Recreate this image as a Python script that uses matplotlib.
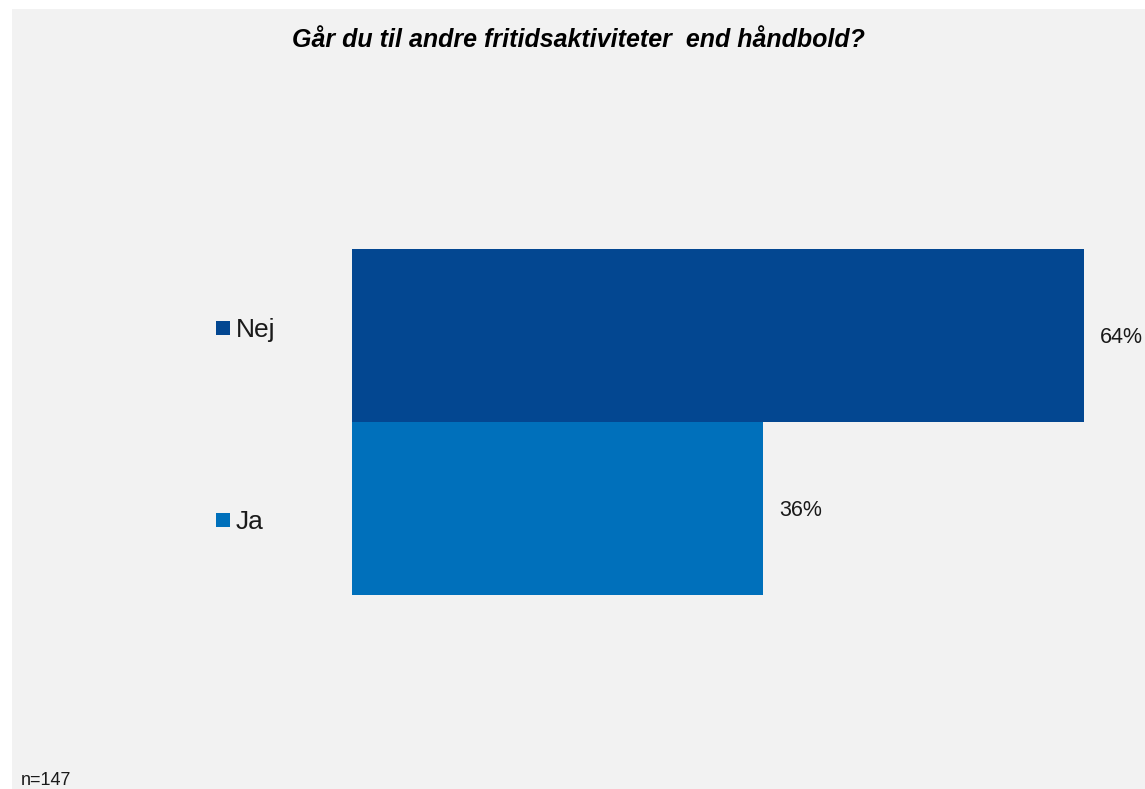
import matplotlib
matplotlib.use("Agg")
import matplotlib.pyplot as plt
from matplotlib.patches import Rectangle

plt.rcParams['font.family'] = ['Liberation Sans', 'DejaVu Sans']

categories = ["Ja", "Nej"]
values = [36, 64]
value_labels = ["36%", "64%"]
colors = ["#0070BB", "#034791"]
title = "Går du til andre fritidsaktiviteter  end håndbold?"
note = "n=147"

W, H = 1145, 789
fig = plt.figure(figsize=(W / 100, H / 100), dpi=100)
fig.patch.set_facecolor("white")

# gray chart area
fig.patches.append(Rectangle((12 / W, 0), 1 - 12 / W, 1 - 9 / H,
                             transform=fig.transFigure, facecolor="#F2F2F2",
                             edgecolor="none", zorder=-10))

px_per_pct = 11.43
ax_left, ax_right = 352, W
ax_top, ax_bottom = 249, 595
ax = fig.add_axes([ax_left / W, 1 - ax_bottom / H, (ax_right - ax_left) / W,
                   (ax_bottom - ax_top) / H])
ax.set_zorder(5)
ax.set_facecolor("none")
ax.barh(range(len(categories)), values, height=1.0, color=colors, zorder=2)
ax.set_xlim(0, (ax_right - ax_left) / px_per_pct)
ax.set_ylim(-0.5, len(categories) - 0.5)
ax.axis("off")

for i, (v, lab) in enumerate(zip(values, value_labels)):
    ax.annotate(lab, xy=(v, i), xytext=(16, -2),
                textcoords="offset pixels", va="center", ha="left",
                fontsize=15.5, color="#1a1a1a", annotation_clip=False)

# legend (manual, matching reference placement)
legend_y = {"Nej": 328, "Ja": 520}
for cat, col in zip(categories, colors):
    yc = legend_y[cat]
    fig.patches.append(Rectangle((216 / W, 1 - (yc + 7) / H), 14 / W, 14 / H,
                                 transform=fig.transFigure, facecolor=col,
                                 edgecolor="none", zorder=3))
    fig.text(236 / W, 1 - (yc + 2) / H, cat, fontsize=19, va="center",
             ha="left", color="#1a1a1a")

fig.text(578 / W, 1 - 47 / H, title, fontsize=18, fontweight="bold",
         fontstyle="italic", ha="center", va="baseline", color="black")
fig.text(21 / W, 1 - 785 / H, note, fontsize=13, ha="left", va="baseline",
         color="#1a1a1a")

fig.savefig("out.png", dpi=100, facecolor=fig.get_facecolor())
